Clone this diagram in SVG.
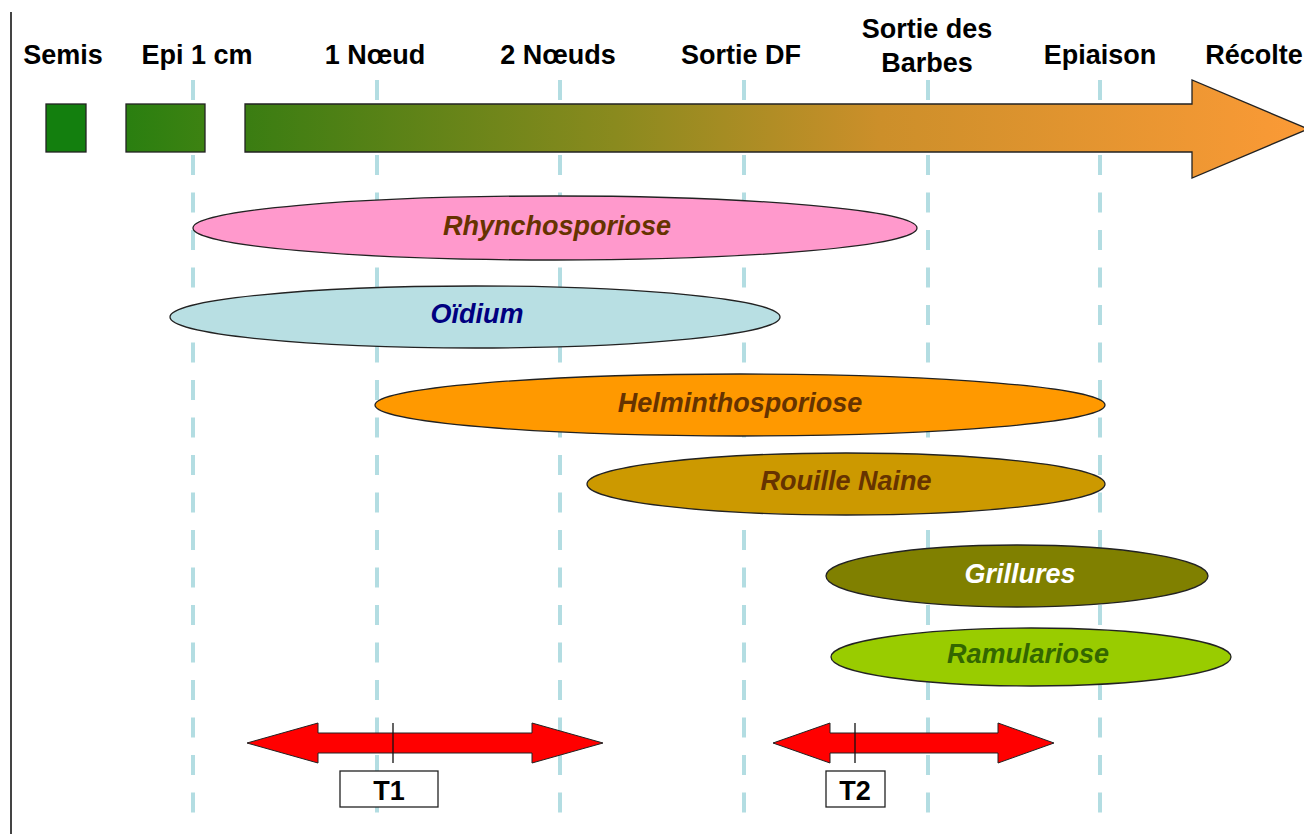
<svg xmlns="http://www.w3.org/2000/svg" width="1304" height="834" viewBox="0 0 1304 834">
<defs>
<linearGradient id="gBar" x1="245" y1="0" x2="1304" y2="0" gradientUnits="userSpaceOnUse">
<stop offset="0" stop-color="#3a7d12"/>
<stop offset="0.35" stop-color="#8a8a1e"/>
<stop offset="0.6" stop-color="#cc8f2a"/>
<stop offset="1" stop-color="#fb9a36"/>
</linearGradient>
<linearGradient id="gEpi" x1="126" y1="0" x2="205" y2="0" gradientUnits="userSpaceOnUse">
<stop offset="0" stop-color="#2a7f10"/>
<stop offset="1" stop-color="#3d8212"/>
</linearGradient>
<style>
.lbl{font-family:"Liberation Sans",Arial,sans-serif;font-weight:bold;font-size:27px;fill:#000;text-anchor:middle}
.dis{font-family:"Liberation Sans",Arial,sans-serif;font-weight:bold;font-style:italic;font-size:27px;text-anchor:middle}
.ell{stroke:#222;stroke-width:1.3}
.vl{stroke:#b3dde2;stroke-width:4;stroke-dasharray:20 17.5}
.red{fill:#ff0000;stroke:#222;stroke-width:1}
.tbox{fill:#fff;stroke:#222;stroke-width:1.3}
.tt{font-family:"Liberation Sans",Arial,sans-serif;font-weight:bold;font-size:27px;text-anchor:middle;fill:#000}
</style>
</defs>
<rect width="1304" height="834" fill="#fff"/>
<line x1="11" y1="12" x2="11" y2="834" stroke="#444" stroke-width="2"/>

<g id="guides">
<line class="vl" x1="193" y1="80" x2="193" y2="820"/>
<line class="vl" x1="377" y1="80" x2="377" y2="820"/>
<line class="vl" x1="560" y1="80" x2="560" y2="820"/>
<line class="vl" x1="744" y1="80" x2="744" y2="820"/>
<line class="vl" x1="928" y1="80" x2="928" y2="820"/>
<line class="vl" x1="1100" y1="80" x2="1100" y2="820"/>
</g>

<g id="labels">
<text class="lbl" x="63" y="64">Semis</text>
<text class="lbl" x="197" y="64">Epi 1 cm</text>
<text class="lbl" x="375" y="64">1 Nœud</text>
<text class="lbl" x="558" y="64">2 Nœuds</text>
<text class="lbl" x="741" y="64">Sortie DF</text>
<text class="lbl" x="927" y="38">Sortie des</text>
<text class="lbl" x="927" y="72">Barbes</text>
<text class="lbl" x="1100" y="64">Epiaison</text>
<text class="lbl" x="1254" y="64">Récolte</text>
</g>

<g id="timeline">
<rect x="46" y="104" width="40" height="48" fill="#137f0e" stroke="#222" stroke-width="1.3"/>
<rect x="126" y="104" width="79" height="48" fill="url(#gEpi)" stroke="#222" stroke-width="1.3"/>
<path d="M245,104 H1192 V80 L1308,129 L1192,178 V152 H245 Z" fill="url(#gBar)" stroke="#222" stroke-width="1.3"/>
</g>

<g id="rhynchosporiose">
<ellipse class="ell" cx="555" cy="228" rx="362" ry="32" fill="#ff99cc"/>
<text class="dis" x="557" y="235" fill="#663300">Rhynchosporiose</text>
</g>
<g id="oidium">
<ellipse class="ell" cx="475" cy="317" rx="305" ry="31" fill="#b8dfe3"/>
<text class="dis" x="477" y="323" fill="#000080">Oïdium</text>
</g>
<g id="helminthosporiose">
<ellipse class="ell" cx="740" cy="405" rx="365" ry="31" fill="#ff9900"/>
<text class="dis" x="740" y="412" fill="#663300">Helminthosporiose</text>
</g>
<g id="rouille">
<ellipse class="ell" cx="846" cy="484" rx="259" ry="31" fill="#cc9900"/>
<text class="dis" x="846" y="490" fill="#663300">Rouille Naine</text>
</g>
<g id="grillures">
<ellipse class="ell" cx="1017" cy="576" rx="191" ry="31" fill="#808000"/>
<text class="dis" x="1020" y="583" fill="#ffffff">Grillures</text>
</g>
<g id="ramulariose">
<ellipse class="ell" cx="1031" cy="657" rx="200" ry="29" fill="#99cc00"/>
<text class="dis" x="1028" y="663" fill="#336600">Ramulariose</text>
</g>

<g id="t1">
<path class="red" d="M247,743 L318,723 V733 H532 V723 L603,743 L532,763 V753 H318 V763 Z"/>
<line x1="393" y1="723" x2="393" y2="763" stroke="#111" stroke-width="1.3"/>
<rect class="tbox" x="340" y="771" width="98" height="36"/>
<text class="tt" x="389" y="800">T1</text>
</g>
<g id="t2">
<path class="red" d="M773,743 L830,723 V733 H998 V723 L1054,743 L998,763 V753 H830 V763 Z"/>
<line x1="855" y1="723" x2="855" y2="763" stroke="#111" stroke-width="1.3"/>
<rect class="tbox" x="826" y="771" width="59" height="36"/>
<text class="tt" x="855" y="800">T2</text>
</g>
</svg>
